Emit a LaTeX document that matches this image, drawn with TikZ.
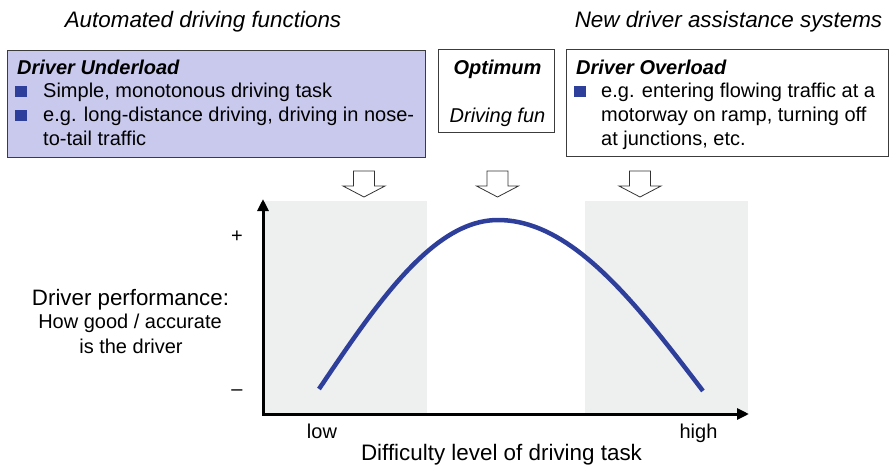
\documentclass[tikz,border=0pt]{standalone}
\usepackage{fontspec}
\setmainfont{Liberation Sans}
\usetikzlibrary{arrows.meta}
\definecolor{lav}{RGB}{201,201,238}
\definecolor{bblue}{RGB}{46,62,155}
\definecolor{zone}{RGB}{238,239,239}
\definecolor{frame}{RGB}{60,60,60}
\begin{document}
\begin{tikzpicture}[x=1pt,y=-1pt,
 txt/.style={inner sep=0, font=\fontsize{20}{24}\selectfont},
 bigtxt/.style={inner sep=0, font=\fontsize{22.4}{27}\selectfont},
 box/.style={draw=frame, line width=0.8pt, inner sep=0, anchor=north west},
 bullet/.style={fill=bblue, minimum width=12pt, minimum height=11pt, inner sep=0, anchor=south west},
 hollow/.style={draw=black!80, fill=white, line width=0.8pt, line join=miter},
 axis/.style={line width=3pt, line join=miter, {Triangle[length=12pt,width=11pt]}-{Triangle[length=12pt,width=11pt]}},
 curve/.style={bblue, line width=4.5pt}]
\useasboundingbox (0,0) rectangle (889,474);
% titles
\node[bigtxt, anchor=base] (t1) at (203,27) {\itshape Automated driving functions};
\node[bigtxt, anchor=base] (t2) at (728.5,27) {\itshape New driver assistance systems};
% boxes
\node[box, fill=lav, minimum width=418, minimum height=107] (under) at (7,50) {};
\node[box, minimum width=116, minimum height=83] (opt) at (438,49) {};
\node[box, minimum width=322, minimum height=107] (over) at (566,49) {};
% underload text
\node[txt, anchor=base west] (u0) at (17,74) {\bfseries\itshape Driver Underload};
\node[bullet] (ub1) at (15,97.5) {};
\node[txt, anchor=base west] (u1) at (43,97.5) {Simple, monotonous driving task};
\node[bullet] (ub2) at (15,121.5) {};
\node[txt, anchor=base west] (u2) at (43,121.5) {e.g. long-distance driving, driving in nose-};
\node[txt, anchor=base west] (u3) at (43,145) {to-tail traffic};
% optimum text
\node[txt, anchor=base] (o0) at (497.5,74) {\bfseries\itshape Optimum};
\node[txt, anchor=base] (o1) at (497.5,122) {\itshape Driving fun};
% overload text
\node[txt, anchor=base west] (v0) at (576,74) {\bfseries\itshape Driver Overload};
\node[bullet] (vb1) at (574,97.5) {};
\node[txt, anchor=base west] (v1) at (601,97.5) {e.g. entering flowing traffic at a};
\node[txt, anchor=base west] (v2) at (601,121.5) {motorway on ramp, turning off};
\node[txt, anchor=base west] (v3) at (601,145) {at junctions, etc.};
% hollow arrows
\foreach \cx in {364,497.5,640}{
 \draw[hollow] (\cx-10.5,171) -- (\cx+10.5,171) -- (\cx+10.5,186) -- (\cx+21,186) -- (\cx,197) -- (\cx-21,186) -- (\cx-10.5,186) -- cycle;
}
% zones
\fill[zone] (265,201) rectangle (427,414);
\fill[zone] (585,201) rectangle (748,414);
% curve
\draw[curve] plot[domain=1:0, samples=40] ({498-179*\x},{220+169*(1-cos(90*\x))})
 -- plot[domain=0:1, samples=40] ({498+205*\x},{220+171*(1-cos(90*\x))});
% axes
\coordinate (ytop) at (263,199);
\coordinate (O) at (263,414);
\coordinate (xend) at (749,414);
\draw[axis] (ytop) -- (O) -- (xend);
% axis labels
\node[txt] (plus) at (237,237) {+};
\node[txt] (minus) at (237,393) {–};
\node[inner sep=0, anchor=base, font=\fontsize{22.3}{27}\selectfont] (yl1) at (130.5,305) {Driver performance:};
\node[txt, anchor=base] (yl2) at (130,328) {How good / accurate};
\node[txt, anchor=base] (yl3) at (131,353) {is the driver};
\node[txt, anchor=base] (low) at (322,438) {low};
\node[txt, anchor=base] (high) at (698.5,438) {high};
\node[bigtxt, anchor=base] (xl) at (501.5,460) {Difficulty level of driving task};
\end{tikzpicture}
\end{document}
